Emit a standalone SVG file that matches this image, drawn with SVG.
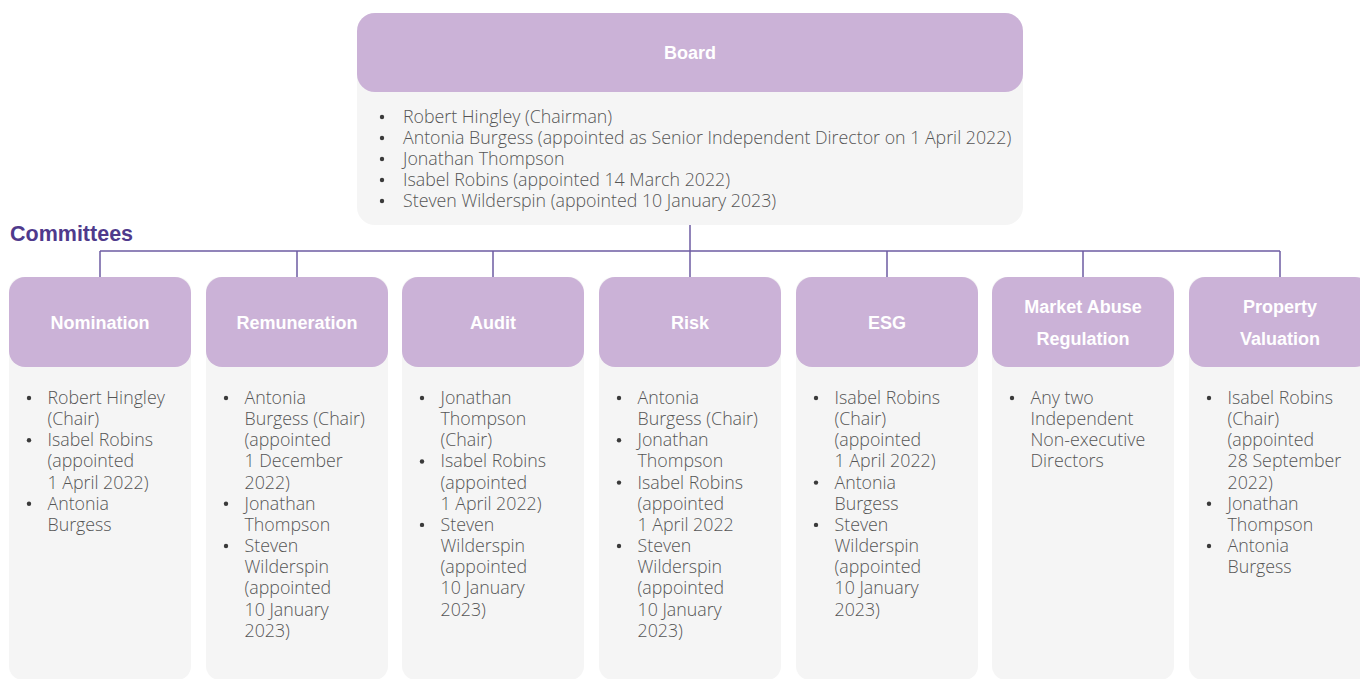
<svg xmlns="http://www.w3.org/2000/svg" width="1360" height="679" viewBox="0 0 1360 679">
<style>
.hd{fill:#cbb2d7}
.bd{fill:#f5f5f5}
.ht{font-family:"Liberation Sans",Arial,sans-serif;font-weight:bold;font-size:18px;fill:#ffffff;text-anchor:middle}
.lt{font-family:"Open Sans","Liberation Sans",sans-serif;font-weight:300;font-size:17.8px;fill:#555555}
.bu{fill:#3a3a3a}
.cn{stroke:#6e5ca3;stroke-width:1.5;fill:none}
.ttl{font-family:"Liberation Sans",Arial,sans-serif;font-weight:bold;font-size:21.5px;fill:#4f3a8c}
</style>
<rect width="1360" height="679" fill="#ffffff"/>
<g id="connectors">
<path class="cn" d="M690 225V277M100 251H1280M100 251V277M297 251V277M493 251V277M887 251V277M1083 251V277M1280 251V277"/>
</g>
<g id="board">
<rect class="bd" x="357" y="13" width="666" height="212" rx="18"/>
<rect class="hd" x="357" y="13" width="666" height="79" rx="18"/>
<text class="ht" x="690" y="59">Board</text>
<g class="bu"><circle cx="382" cy="117" r="2.2"/><circle cx="382" cy="138" r="2.2"/><circle cx="382" cy="159" r="2.2"/><circle cx="382" cy="180" r="2.2"/><circle cx="382" cy="201" r="2.2"/></g>
<text class="lt"><tspan x="403" y="123">Robert Hingley (Chairman)</tspan><tspan x="403" y="144">Antonia Burgess (appointed as Senior Independent Director on 1 April 2022)</tspan><tspan x="403" y="165">Jonathan Thompson</tspan><tspan x="403" y="186">Isabel Robins (appointed 14 March 2022)</tspan><tspan x="403" y="207">Steven Wilderspin (appointed 10 January 2023)</tspan></text>
</g>
<text id="committees-title" class="ttl" x="10" y="241">Committees</text>
<g id="nomination">
<rect class="bd" x="9" y="277" width="182" height="403" rx="14"/>
<rect class="hd" x="9" y="277" width="182" height="90" rx="16"/>
<text class="ht" x="100" y="329">Nomination</text>
<g class="bu"><circle cx="29" cy="398" r="2.2"/><circle cx="29" cy="440.3" r="2.2"/><circle cx="29" cy="503.75" r="2.2"/></g>
<text class="lt"><tspan x="47.5" y="404">Robert Hingley</tspan><tspan x="47.5" y="425.15">(Chair)</tspan><tspan x="47.5" y="446.3">Isabel Robins</tspan><tspan x="47.5" y="467.45">(appointed</tspan><tspan x="47.5" y="488.6">1 April 2022)</tspan><tspan x="47.5" y="509.75">Antonia</tspan><tspan x="47.5" y="530.9">Burgess</tspan></text>
</g>
<g id="remuneration">
<rect class="bd" x="206" y="277" width="182" height="403" rx="14"/>
<rect class="hd" x="206" y="277" width="182" height="90" rx="16"/>
<text class="ht" x="297" y="329">Remuneration</text>
<g class="bu"><circle cx="226" cy="398" r="2.2"/><circle cx="226" cy="503.75" r="2.2"/><circle cx="226" cy="546.05" r="2.2"/></g>
<text class="lt"><tspan x="244.5" y="404">Antonia</tspan><tspan x="244.5" y="425.15">Burgess (Chair)</tspan><tspan x="244.5" y="446.3">(appointed</tspan><tspan x="244.5" y="467.45">1 December</tspan><tspan x="244.5" y="488.6">2022)</tspan><tspan x="244.5" y="509.75">Jonathan</tspan><tspan x="244.5" y="530.9">Thompson</tspan><tspan x="244.5" y="552.05">Steven</tspan><tspan x="244.5" y="573.2">Wilderspin</tspan><tspan x="244.5" y="594.35">(appointed</tspan><tspan x="244.5" y="615.5">10 January</tspan><tspan x="244.5" y="636.65">2023)</tspan></text>
</g>
<g id="audit">
<rect class="bd" x="402" y="277" width="182" height="403" rx="14"/>
<rect class="hd" x="402" y="277" width="182" height="90" rx="16"/>
<text class="ht" x="493" y="329">Audit</text>
<g class="bu"><circle cx="422" cy="398" r="2.2"/><circle cx="422" cy="461.45" r="2.2"/><circle cx="422" cy="524.9" r="2.2"/></g>
<text class="lt"><tspan x="440.5" y="404">Jonathan</tspan><tspan x="440.5" y="425.15">Thompson</tspan><tspan x="440.5" y="446.3">(Chair)</tspan><tspan x="440.5" y="467.45">Isabel Robins</tspan><tspan x="440.5" y="488.6">(appointed</tspan><tspan x="440.5" y="509.75">1 April 2022)</tspan><tspan x="440.5" y="530.9">Steven</tspan><tspan x="440.5" y="552.05">Wilderspin</tspan><tspan x="440.5" y="573.2">(appointed</tspan><tspan x="440.5" y="594.35">10 January</tspan><tspan x="440.5" y="615.5">2023)</tspan></text>
</g>
<g id="risk">
<rect class="bd" x="599" y="277" width="182" height="403" rx="14"/>
<rect class="hd" x="599" y="277" width="182" height="90" rx="16"/>
<text class="ht" x="690" y="329">Risk</text>
<g class="bu"><circle cx="619" cy="398" r="2.2"/><circle cx="619" cy="440.3" r="2.2"/><circle cx="619" cy="482.6" r="2.2"/><circle cx="619" cy="546.05" r="2.2"/></g>
<text class="lt"><tspan x="637.5" y="404">Antonia</tspan><tspan x="637.5" y="425.15">Burgess (Chair)</tspan><tspan x="637.5" y="446.3">Jonathan</tspan><tspan x="637.5" y="467.45">Thompson</tspan><tspan x="637.5" y="488.6">Isabel Robins</tspan><tspan x="637.5" y="509.75">(appointed</tspan><tspan x="637.5" y="530.9">1 April 2022</tspan><tspan x="637.5" y="552.05">Steven</tspan><tspan x="637.5" y="573.2">Wilderspin</tspan><tspan x="637.5" y="594.35">(appointed</tspan><tspan x="637.5" y="615.5">10 January</tspan><tspan x="637.5" y="636.65">2023)</tspan></text>
</g>
<g id="esg">
<rect class="bd" x="796" y="277" width="182" height="403" rx="14"/>
<rect class="hd" x="796" y="277" width="182" height="90" rx="16"/>
<text class="ht" x="887" y="329">ESG</text>
<g class="bu"><circle cx="816" cy="398" r="2.2"/><circle cx="816" cy="482.6" r="2.2"/><circle cx="816" cy="524.9" r="2.2"/></g>
<text class="lt"><tspan x="834.5" y="404">Isabel Robins</tspan><tspan x="834.5" y="425.15">(Chair)</tspan><tspan x="834.5" y="446.3">(appointed</tspan><tspan x="834.5" y="467.45">1 April 2022)</tspan><tspan x="834.5" y="488.6">Antonia</tspan><tspan x="834.5" y="509.75">Burgess</tspan><tspan x="834.5" y="530.9">Steven</tspan><tspan x="834.5" y="552.05">Wilderspin</tspan><tspan x="834.5" y="573.2">(appointed</tspan><tspan x="834.5" y="594.35">10 January</tspan><tspan x="834.5" y="615.5">2023)</tspan></text>
</g>
<g id="market-abuse-regulation">
<rect class="bd" x="992" y="277" width="182" height="403" rx="14"/>
<rect class="hd" x="992" y="277" width="182" height="90" rx="16"/>
<text class="ht"><tspan x="1083" y="313">Market Abuse</tspan><tspan x="1083" y="345">Regulation</tspan></text>
<g class="bu"><circle cx="1012" cy="398" r="2.2"/></g>
<text class="lt"><tspan x="1030.5" y="404">Any two</tspan><tspan x="1030.5" y="425.15">Independent</tspan><tspan x="1030.5" y="446.3">Non-executive</tspan><tspan x="1030.5" y="467.45">Directors</tspan></text>
</g>
<g id="property-valuation">
<rect class="bd" x="1189" y="277" width="182" height="403" rx="14"/>
<rect class="hd" x="1189" y="277" width="182" height="90" rx="16"/>
<text class="ht"><tspan x="1280" y="313">Property</tspan><tspan x="1280" y="345">Valuation</tspan></text>
<g class="bu"><circle cx="1209" cy="398" r="2.2"/><circle cx="1209" cy="503.75" r="2.2"/><circle cx="1209" cy="546.05" r="2.2"/></g>
<text class="lt"><tspan x="1227.5" y="404">Isabel Robins</tspan><tspan x="1227.5" y="425.15">(Chair)</tspan><tspan x="1227.5" y="446.3">(appointed</tspan><tspan x="1227.5" y="467.45">28 September</tspan><tspan x="1227.5" y="488.6">2022)</tspan><tspan x="1227.5" y="509.75">Jonathan</tspan><tspan x="1227.5" y="530.9">Thompson</tspan><tspan x="1227.5" y="552.05">Antonia</tspan><tspan x="1227.5" y="573.2">Burgess</tspan></text>
</g>
</svg>
